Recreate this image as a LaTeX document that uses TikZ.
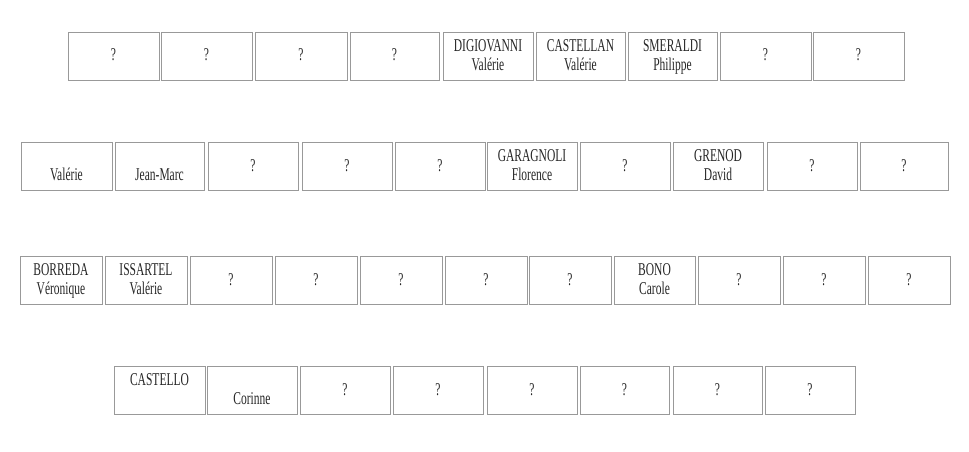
\documentclass[tikz,border=0pt]{standalone}
\usepackage{fontspec}
\setmainfont{Liberation Serif}
\tikzset{
  cell/.style={draw=black!40, line width=0.7pt, anchor=north west, minimum height=48pt, inner sep=0pt, outer sep=0pt},
  lbl/.style={anchor=base, inner sep=0pt, text=black!85, font=\fontsize{18}{19}\selectfont}
}
\newcommand\squeeze[1]{\scalebox{0.64}[1]{#1}}
\newcommand\qcell[4]{%
  \node[cell, minimum width=#4pt] (#1) at (#2pt,-#3pt) {};
  \node[lbl] (#1q) at ([yshift=-29pt]#1.north) {\squeeze{?}};}
\newcommand\ncell[6]{%
  \node[cell, minimum width=#4pt] (#1) at (#2pt,-#3pt) {};
  \node[lbl] (#1a) at ([yshift=-19.5pt]#1.north) {\squeeze{#5}};
  \node[lbl] (#1b) at ([yshift=-38.5pt]#1.north) {\squeeze{#6}};}
\begin{document}
\begin{tikzpicture}
\useasboundingbox[fill=white] (0pt,0pt) rectangle (969pt,-452pt);
% row 1
\qcell{a1}{68}{32}{91}
\qcell{a2}{161}{32}{91}
\qcell{a3}{255}{32}{92}
\qcell{a4}{350}{32}{89}
\ncell{a5}{443}{32}{90}{DIGIOVANNI}{Valérie}
\ncell{a6}{536}{32}{89}{CASTELLAN}{Valérie}
\ncell{a7}{628}{32}{89}{SMERALDI}{Philippe}
\qcell{a8}{720}{32}{91}
\qcell{a9}{813}{32}{91}
% row 2
\ncell{b1}{21}{142}{91}{}{Valérie}
\ncell{b2}{115}{142}{89}{}{Jean-Marc}
\qcell{b3}{208}{142}{90}
\qcell{b4}{302}{142}{90}
\qcell{b5}{395}{142}{90}
\ncell{b6}{487}{142}{90}{GARAGNOLI}{Florence}
\qcell{b7}{580}{142}{90}
\ncell{b8}{673}{142}{90}{GRENOD}{David}
\qcell{b9}{767}{142}{90}
\qcell{b10}{860}{142}{88}
% row 3
\ncell{c1}{20}{256}{82}{BORREDA}{Véronique}
\ncell{c2}{105}{256}{82}{ISSARTEL}{Valérie}
\qcell{c3}{190}{256}{82}
\qcell{c4}{275}{256}{82}
\qcell{c5}{360}{256}{82}
\qcell{c6}{445}{256}{82}
\qcell{c7}{529}{256}{82}
\ncell{c8}{614}{256}{81}{BONO}{Carole}
\qcell{c9}{698}{256}{82}
\qcell{c10}{783}{256}{82}
\qcell{c11}{868}{256}{82}
% row 4
\ncell{d1}{114}{366}{91}{CASTELLO}{}
\ncell{d2}{207}{366}{90}{}{Corinne}
\qcell{d3}{300}{366}{90}
\qcell{d4}{393}{366}{90}
\qcell{d5}{487}{366}{90}
\qcell{d6}{580}{366}{89}
\qcell{d7}{673}{366}{89}
\qcell{d8}{765}{366}{90}
\end{tikzpicture}
\end{document}
